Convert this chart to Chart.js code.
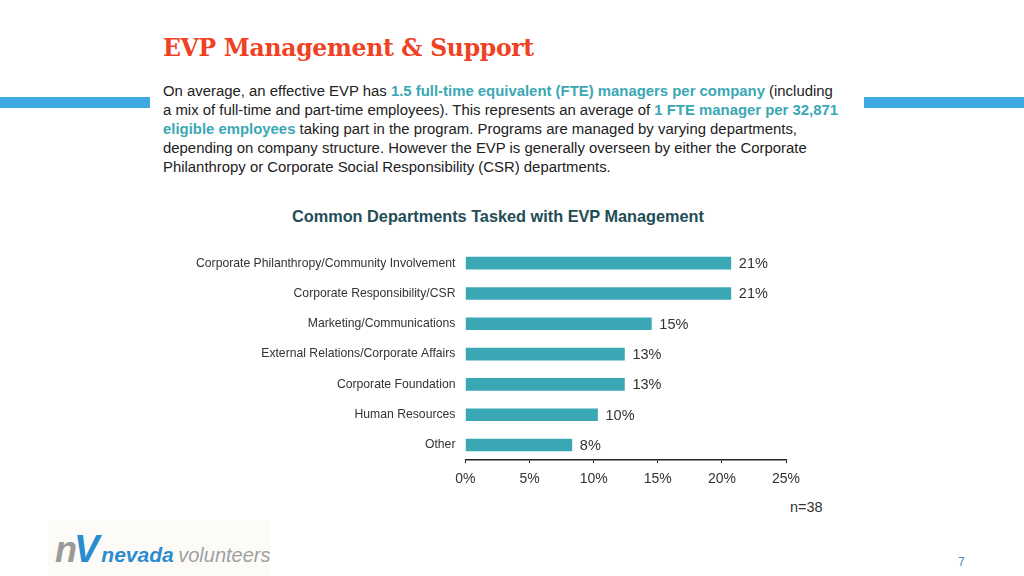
<!DOCTYPE html>
<html lang="en">
<head>
    <meta charset="UTF-8">
    <title>EVP Management & Support</title>
    <script src="https://cdn.jsdelivr.net/npm/chart.js"></script>
    <style>
        body { margin: 0; width: 1024px; height: 576px; background: #fff; position: relative; overflow: hidden; font-family: "Liberation Sans", Arial, sans-serif; }
        .band { position: absolute; top: 97px; height: 11px; background: #3fa9e4; }
        #title { position: absolute; left: 163px; top: 34px; margin: 0; font-family: "DejaVu Serif", "Liberation Serif", serif; font-weight: bold; font-size: 23.5px; color: #ef4123; letter-spacing: -0.3px; }
        #intro { position: absolute; left: 163px; top: 82px; margin: 0; font-size: 14.9px; line-height: 19px; color: #222; white-space: nowrap; }
        #intro b { color: #3aa8b4; }
        #chartTitle { position: absolute; left: 0; width: 996px; top: 207px; margin: 0; text-align: center; font-size: 16.3px; font-weight: bold; color: #1f4d57; }
        #wrap { position: absolute; left: 162px; top: 198px; width: 658px; height: 298px; }
        #nNote { position: absolute; left: 790px; top: 499px; font-size: 14.5px; color: #333; }
        #page { position: absolute; left: 958px; top: 555px; font-size: 12px; color: #3c8fd0; }
        #logo { position: absolute; left: 48px; top: 520px; width: 222px; height: 56px; background: #fcfbf8; }
        #logo div { position: absolute; left: 7px; top: 8px; font-style: italic; white-space: nowrap; }
        #logo .nv1 { font-size: 36px; font-weight: bold; color: #9a9a9a; letter-spacing: -3px; }
        #logo .nv2 { font-size: 38px; font-weight: bold; color: #2a8ccf; margin-right: 2px; }
        #logo .nev { font-size: 21px; font-weight: bold; color: #2a8ccf; }
        #logo .vol { font-size: 20px; color: #a0a0a0; }
    </style>
</head>
<body>
    <div class="band" style="left:0;width:150px"></div>
    <div class="band" style="left:864px;width:160px"></div>

    <h1 id="title">EVP Management &amp; Support</h1>
    <p id="intro">On average, an effective EVP has <b>1.5 full-time equivalent (FTE) managers per company</b> (including<br>a mix of full-time and part-time employees). This represents an average of <b>1 FTE manager per 32,871</b><br><b>eligible employees</b> taking part in the program. Programs are managed by varying departments,<br>depending on company structure. However the EVP is generally overseen by either the Corporate<br>Philanthropy or Corporate Social Responsibility (CSR) departments.</p>

    <h2 id="chartTitle">Common Departments Tasked with EVP Management</h2>
    <div id="wrap"><canvas id="chart"></canvas></div>

    <div id="nNote">n=38</div>
    <div id="logo"><div><span class="nv1">n</span><span class="nv2">V</span><span class="nev">nevada</span> <span class="vol">volunteers</span></div></div>
    <div id="page">7</div>

    <script>
        const departments = [
            "Corporate Philanthropy/Community Involvement",
            "Corporate Responsibility/CSR",
            "Marketing/Communications",
            "External Relations/Corporate Affairs",
            "Corporate Foundation",
            "Human Resources",
            "Other"
        ];
        const shares = [20.7, 20.7, 14.5, 12.4, 12.4, 10.3, 8.3];
        const shareLabels = ["21%", "21%", "15%", "13%", "13%", "10%", "8%"];
        const xTicks = [0, 5, 10, 15, 20, 25];

        // draws the % text at the end of each bar
        const barValues = {
            id: "barValues",
            afterDatasetsDraw(chart) {
                const ctx = chart.ctx;
                const meta = chart.getDatasetMeta(0);
                ctx.save();
                ctx.font = "14.5px 'Liberation Sans', Arial, sans-serif";
                ctx.fillStyle = "#333";
                ctx.textBaseline = "middle";
                meta.data.forEach((bar, i) => {
                    ctx.fillText(shareLabels[i], bar.x + 8, bar.y + 1);
                });
                ctx.restore();
            }
        };

        new Chart(document.getElementById("chart"), {
            type: "bar",
            data: {
                labels: departments,
                datasets: [{ data: shares, backgroundColor: "#3aa8b4", barThickness: 12 }]
            },
            options: {
                indexAxis: "y",
                responsive: true,
                maintainAspectRatio: false,
                animation: false,
                layout: { padding: { left: 24, right: 34, top: 50, bottom: 0 } },
                plugins: {
                    legend: { display: false },
                    tooltip: { enabled: false }
                },
                scales: {
                    x: {
                        min: 0,
                        max: 25,
                        afterBuildTicks: axis => { axis.ticks = xTicks.map(v => ({ value: v })); },
                        ticks: {
                            callback: v => v + "%",
                            color: "#333",
                            font: { family: "'Liberation Sans', Arial, sans-serif", size: 14 },
                            padding: 8
                        },
                        grid: { drawOnChartArea: false, drawTicks: true, tickLength: 3, color: "#222" },
                        border: { color: "#222", width: 1.5 }
                    },
                    y: {
                        ticks: {
                            color: "#333",
                            font: { family: "'Liberation Sans', Arial, sans-serif", size: 12.2 },
                            padding: 10
                        },
                        grid: { display: false, drawTicks: false },
                        border: { display: false }
                    }
                }
            },
            plugins: [barValues]
        });
    </script>
</body>
</html>
